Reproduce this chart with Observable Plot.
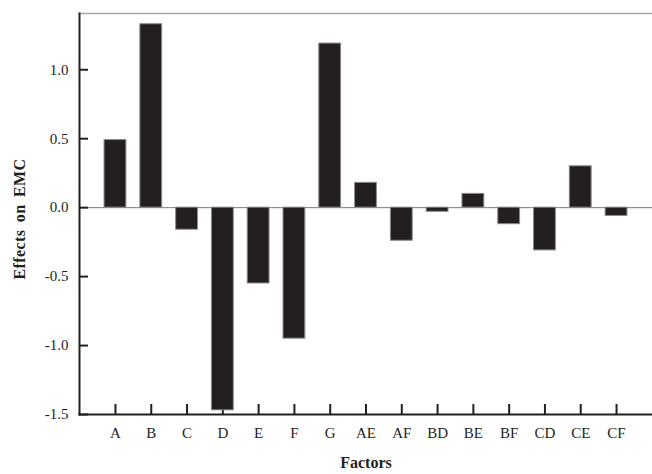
<!DOCTYPE html>
<html>
<head>
<meta charset="utf-8">
<script src="https://cdn.jsdelivr.net/npm/d3@7"></script>
<script src="https://cdn.jsdelivr.net/npm/@observablehq/plot@0.6"></script>
<style>
  html, body { margin: 0; padding: 0; background: #fff; }
  .ylab text { letter-spacing: 0.4px; word-spacing: 3px; }
</style>
</head>
<body>
<div id="chart"></div>
<script>
// Estimated main and interaction effects on EMC
const factors = ["A", "B", "C", "D", "E", "F", "G", "AE", "AF", "BD", "BE", "BF", "CD", "CE", "CF"];
const effects = [0.49, 1.33, -0.16, -1.47, -0.55, -0.95, 1.19, 0.18, -0.24, -0.03, 0.10, -0.12, -0.31, 0.30, -0.06];
const yTicks = [-1.5, -1.0, -0.5, 0.0, 0.5, 1.0];
const yMin = -1.5;
const yMax = 1.408;

const data = factors.map((f, i) => ({factor: f, effect: effects[i]}));
const ink = "#231f20";

const chart = Plot.plot({
  width: 652,
  height: 474,
  marginLeft: 79,
  marginRight: 0,
  marginTop: 13,
  marginBottom: 60,
  style: {fontFamily: "'Liberation Serif', 'DejaVu Serif', serif", fontSize: "15px", background: "#fff", color: ink},
  x: {domain: factors, paddingInner: 0.39, paddingOuter: 0.7, round: false, label: null},
  y: {domain: [yMin, yMax], label: null},
  marks: [
    Plot.ruleY([0], {stroke: "#7a7a7a", strokeWidth: 1}),
    Plot.frame({anchor: "top", stroke: "#aaa", strokeWidth: 1.5}),
    Plot.axisY(yTicks, {tickSize: -9, text: null, stroke: ink, strokeWidth: 2}),
    Plot.axisY(yTicks, {tickSize: 0, tickPadding: 11, tickFormat: d => d.toFixed(1), fill: ink, fontSize: 15, fontVariant: "normal"}),
    Plot.axisX({tickSize: -10, text: null, stroke: ink, strokeWidth: 2}),
    Plot.axisX({tickSize: 0, tickPadding: 13, fill: ink, fontSize: 15}),
    Plot.barY(data, {x: "factor", y: "effect", fill: ink, stroke: "#8a8a8a", strokeWidth: 1}),
    Plot.frame({anchor: "left", stroke: ink, strokeWidth: 2}),
    Plot.frame({anchor: "bottom", stroke: ink, strokeWidth: 2}),
    Plot.text(["Factors"], {frameAnchor: "bottom", dy: 53, fontWeight: "bold", fontSize: 16, fill: ink}),
    Plot.text(["Effects on EMC"], {frameAnchor: "left", textAnchor: "middle", rotate: -90, dx: -60, dy: 5, fontWeight: "bold", fontSize: 16, fill: ink, className: "ylab"})
  ]
});

document.getElementById("chart").appendChild(chart);
</script>
</body>
</html>
